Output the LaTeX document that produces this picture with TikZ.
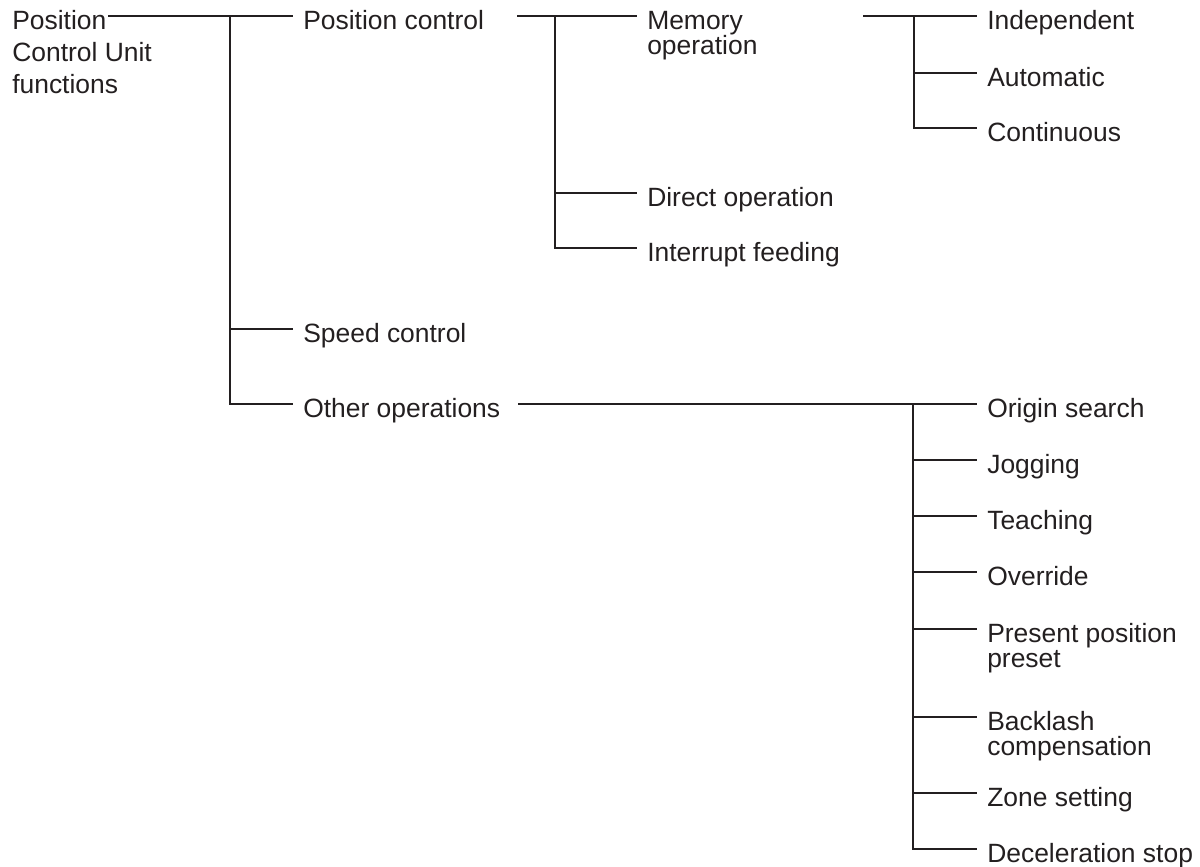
\documentclass[tikz,border=0pt]{standalone}
\usepackage{fontspec}
\setmainfont{Liberation Sans}
\usepackage{xcolor}
\usepackage{tikz}
\definecolor{ink}{HTML}{231F20}
\newcommand{\twolines}[2]{\vtop{\hbox{#1}\hbox{#2}}}
\tikzset{
  item/.style = {anchor=west, inner xsep=7.1pt, inner ysep=0pt, text height=18.5pt, text depth=0pt,
                 text=ink, font=\fontsize{18.8pt}{17.8pt}\selectfont},
  wire/.style = {draw=ink, line width=0.8pt},
}

\begin{document}
\begin{tikzpicture}[x=0.025cm,y=-0.025cm]
\useasboundingbox (0,0) rectangle (1200,866);
% level 0 and 1
\node[item] (root) at (2,16) {\vtop{\baselineskip=23pt\hbox{Position}\hbox{Control Unit}\hbox{functions}}};
\node[item] (pos) at (293,16) {Position control};
\node[item] (spd) at (293,329) {Speed control};
\node[item] (oth) at (293,404) {Other operations};
% level 2
\node[item] (mem) at (637,16) {\twolines{Memory}{operation}};
\node[item] (dir) at (637,193) {Direct operation};
\node[item] (itr) at (637,248) {Interrupt feeding};
% level 3
\node[item] (ind) at (977,16) {Independent};
\node[item] (aut) at (977,73) {Automatic};
\node[item] (con) at (977,128) {Continuous};
\node[item] (ori) at (977,404) {Origin search};
\node[item] (jog) at (977,460) {Jogging};
\node[item] (tea) at (977,516) {Teaching};
\node[item] (ovr) at (977,572) {Override};
\node[item] (pre) at (977,629) {\twolines{Present position}{preset}};
\node[item] (bck) at (977,717) {\twolines{Backlash}{compensation}};
\node[item] (zon) at (977,793) {Zone setting};
\node[item] (dec) at (977,849) {Deceleration stop};

% where the lines start and branch
\coordinate (r0) at (108,16);
\coordinate (j1) at (230,16);
\coordinate (r1) at (517,16);
\coordinate (j2) at (555,16);
\coordinate (r2) at (863,16);
\coordinate (j3) at (914,16);
\coordinate (r3) at (518,404);
\coordinate (j4) at (913,404);

\draw[wire] (r0) -- (pos.west);
\draw[wire] (j1) |- (spd.west);
\draw[wire] (j1) |- (oth.west);
\draw[wire] (r1) -- (mem.west);
\draw[wire] (j2) |- (dir.west);
\draw[wire] (j2) |- (itr.west);
\draw[wire] (r2) -- (ind.west);
\draw[wire] (j3) |- (aut.west);
\draw[wire] (j3) |- (con.west);
\draw[wire] (r3) -- (ori.west);
\draw[wire] (j4) |- (jog.west);
\draw[wire] (j4) |- (tea.west);
\draw[wire] (j4) |- (ovr.west);
\draw[wire] (j4) |- (pre.west);
\draw[wire] (j4) |- (bck.west);
\draw[wire] (j4) |- (zon.west);
\draw[wire] (j4) |- (dec.west);
\end{tikzpicture}
\end{document}
